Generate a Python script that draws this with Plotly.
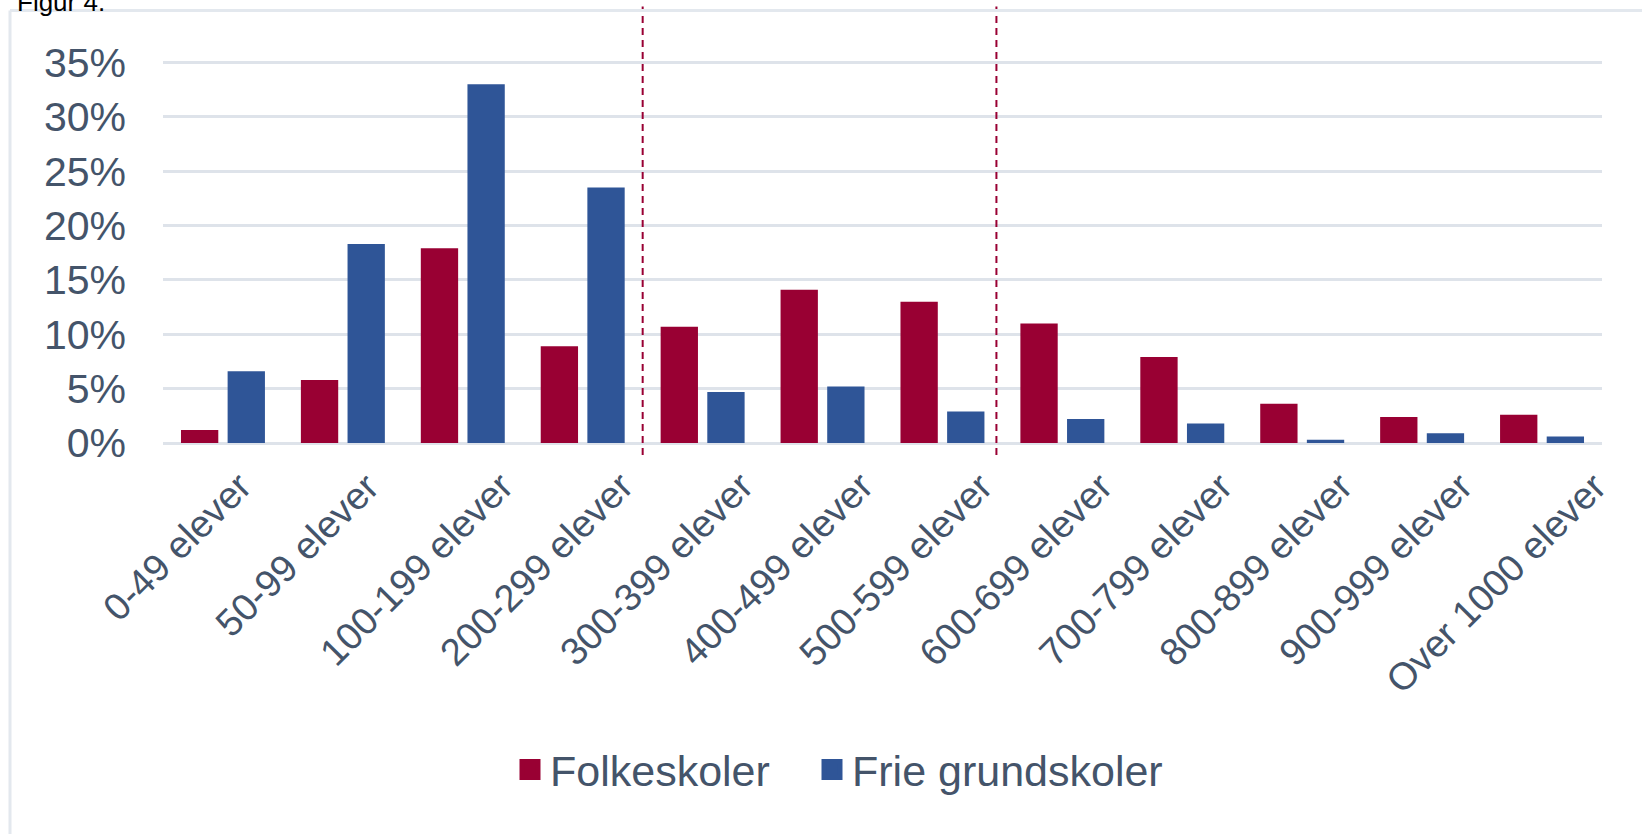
import plotly.graph_objects as go

categories = ["0-49 elever", "50-99 elever", "100-199 elever", "200-299 elever",
              "300-399 elever", "400-499 elever", "500-599 elever", "600-699 elever",
              "700-799 elever", "800-899 elever", "900-999 elever", "Over 1000 elever"]
folkeskoler = [1.2, 5.8, 17.9, 8.9, 10.7, 14.1, 13.0, 11.0, 7.9, 3.6, 2.4, 2.6]
frie_grundskoler = [6.6, 18.3, 33.0, 23.5, 4.7, 5.2, 2.9, 2.2, 1.8, 0.3, 0.9, 0.6]
series_names = ["Folkeskoler", "Frie grundskoler"]
y_tick_values = [0, 5, 10, 15, 20, 25, 30, 35]
y_tick_labels = ["0%", "5%", "10%", "15%", "20%", "25%", "30%", "35%"]
separator_positions = [3.5, 6.45]
title_text = "Figur 4."

W, H = 1642, 834
Y_TOP_TICK, Y_ZERO = 62, 443      # pixel rows of 35% and 0%
YMAX = 35.5
ML, MR = 163, 40
MB = H - Y_ZERO
PH = (Y_ZERO - Y_TOP_TICK) * YMAX / 35.0
MT = Y_ZERO - PH
PW = W - ML - MR

RED = "#990033"
BLUE = "#2F5597"
TXT = "#44546A"
GRID = "#DEE3EA"
FONT = "Liberation Sans, Arial, sans-serif"


def px_x(px):
    return (px - ML) / PW


def px_y(py):
    return (H - MB - py) / PH


fig = go.Figure()
fig.add_trace(go.Bar(x=categories, y=folkeskoler, name=series_names[0],
                     marker=dict(color=RED, line=dict(width=0)), showlegend=False))
fig.add_trace(go.Bar(x=categories, y=frie_grundskoler, name=series_names[1],
                     marker=dict(color=BLUE, line=dict(width=0)), showlegend=False))
# legend entries (one legend per entry for exact placement)
for nm, col, lg in zip(series_names, [RED, BLUE], ["legend", "legend2"]):
    fig.add_trace(go.Scatter(x=[None], y=[None], mode="markers", name=nm, legend=lg,
                             marker=dict(symbol="square", size=16, color=col,
                                         line=dict(color=col, width=5))))

shapes = []
for xp in separator_positions:
    shapes.append(dict(type="line", xref="x", yref="paper", x0=xp, x1=xp,
                       y0=px_y(455), y1=px_y(6),
                       line=dict(color=RED, width=2, dash="7px,5px")))
# outer frame (top and left edges)
shapes.append(dict(type="line", xref="paper", yref="paper",
                   x0=px_x(10), x1=px_x(W + 5), y0=px_y(10), y1=px_y(10),
                   line=dict(color="#E3E8EE", width=3)))
shapes.append(dict(type="line", xref="paper", yref="paper",
                   x0=px_x(10), x1=px_x(10), y0=px_y(10), y1=px_y(H + 5),
                   line=dict(color="#E3E8EE", width=3)))

annotations = [dict(text=title_text, xref="paper", yref="paper",
                    x=px_x(15), y=px_y(19), xanchor="left", yanchor="bottom",
                    showarrow=False, font=dict(size=26, color="black", family=FONT))]
for cat in categories:
    annotations.append(dict(text=cat, xref="x", yref="paper", x=cat, y=px_y(462),
                            xanchor="center", yanchor="top", textangle=-45,
                            xshift=-46, showarrow=False,
                            font=dict(size=38, color=TXT, family=FONT)))

leg_common = dict(orientation="h", yanchor="middle", y=px_y(770),
                  font=dict(size=43, color=TXT, family=FONT), itemwidth=30,
                  bgcolor="rgba(0,0,0,0)")

fig.update_layout(
    width=W, height=H,
    margin=dict(l=ML, r=MR, t=MT, b=MB, pad=0, autoexpand=False),
    paper_bgcolor="white", plot_bgcolor="white",
    barmode="group", bargap=0.222, bargroupgap=0.2,
    font=dict(family=FONT, color=TXT, size=40),
    shapes=shapes,
    annotations=annotations,
    legend=dict(x=px_x(510), xanchor="left", **leg_common),
    legend2=dict(x=px_x(812), xanchor="left", **leg_common),
    xaxis=dict(range=[-0.5, len(categories) - 0.5], autorange=False,
               showticklabels=False, showgrid=False, showline=False, ticks=""),
    yaxis=dict(range=[0, YMAX], tickvals=y_tick_values, ticktext=y_tick_labels,
               tickfont=dict(size=41, color=TXT), showgrid=True,
               gridcolor=GRID, gridwidth=3, zeroline=True, zerolinecolor=GRID,
               zerolinewidth=3, showline=False, ticks="", ticklabelstandoff=36),
)

fig.write_html("out.html", config={"displayModeBar": False},
               post_script="document.body.style.margin='0';")
